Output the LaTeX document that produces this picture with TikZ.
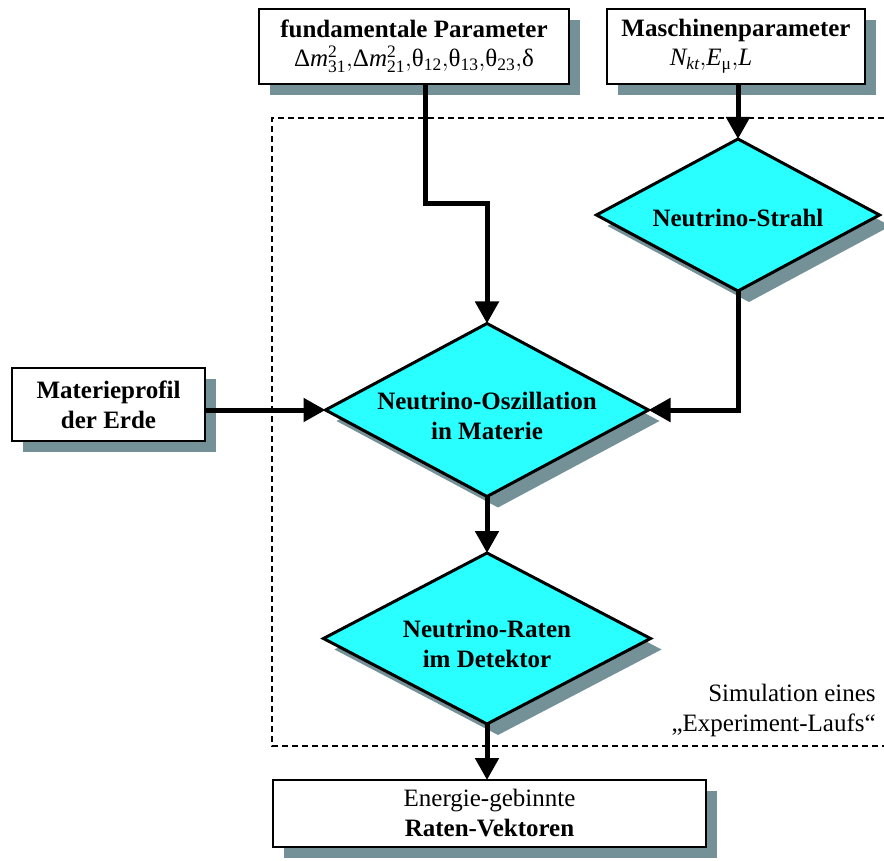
\documentclass[tikz,border=0pt]{standalone}
\usepackage{amsmath}
\usepackage{fontspec}
\setmainfont{Liberation Serif}
\usetikzlibrary{arrows.meta,shapes.geometric,shadows}

\definecolor{rautecyan}{RGB}{41,255,255}
\definecolor{schatten}{RGB}{115,145,150}

\newcommand{\hoti}[2]{^{\text{#1}}_{\text{#2}}}

\begin{document}
\begin{tikzpicture}[
        x=1pt, y=-1pt,
        >={Triangle[length=22pt,width=23pt]},
        every node/.style={font=\fontsize{25}{30}\selectfont, outer sep=0pt},
        kasten/.style={draw, line width=2.5pt, fill=white, align=center, inner sep=0pt,
            drop shadow={shadow xshift=11pt, shadow yshift=-11pt, fill=schatten, opacity=1}},
        raute/.style={diamond, draw, line width=3pt, fill=rautecyan, inner sep=0pt,
            drop shadow={shadow xshift=11pt, shadow yshift=-11pt, fill=schatten, opacity=1}},
        rautetext/.style={align=center, font=\fontsize{25}{30}\selectfont\bfseries},
        pfeil/.style={->, line width=5pt}
    ]

        \useasboundingbox (0,0) rectangle (884,861);

        % Simulationsbereich
        \draw[line width=1.5pt, dash pattern=on 6pt off 4pt]
            (884,118) -- (272,118) -- (272,746) -- (884,746);
        \node[anchor=east, align=right] (simtext) at (879,710)
            {Simulation eines\\„Experiment-Laufs“};

        % Eingaben
        \node[kasten, minimum width=310pt, minimum height=75pt] (fund) at (414,46.5)
            {\textbf{fundamentale Parameter}\\[-1pt]
             $\text{Δ}\mathit{m}\hoti{2}{31}{,}\text{Δ}\mathit{m}\hoti{2}{21}{,}\text{θ}_{\text{12}}{,}\text{θ}_{\text{13}}{,}\text{θ}_{\text{23}}{,}\text{δ}$};
        \node[kasten, minimum width=258pt, minimum height=75pt] (masch) at (736,46.5)
            {\textbf{Maschinenparameter}\\[-1pt]
             $\mathit{N}_{\mathit{kt}}{,}\mathit{E}_{\text{μ}}{,}\mathit{L}$\hspace*{50pt}};
        \node[kasten, minimum width=193pt, minimum height=73pt] (materie) at (108.5,404.5)
            {\textbf{Materieprofil}\\\textbf{der Erde}};

        % Simulationsschritte
        \node[raute, minimum width=283pt, minimum height=152pt] (strahl) at (738,215) {};
        \node[rautetext] (strahltext) at (738,218) {Neutrino-Strahl};
        \node[raute, minimum width=323pt, minimum height=173pt] (osz) at (487,410) {};
        \node[rautetext] (osztext) at (487,416) {Neutrino-Oszillation\\in Materie};
        \node[raute, minimum width=327pt, minimum height=171pt] (raten) at (487,638.5) {};
        \node[rautetext] (ratentext) at (487,644) {Neutrino-Raten\\im Detektor};

        % Ergebnis
        \node[kasten, minimum width=433pt, minimum height=67pt] (vektor) at (489.5,813.5)
            {Energie-gebinnte\\\textbf{Raten-Vektoren}};

        % Pfeile
        \coordinate (knick) at (425,204);
        \draw[pfeil] (knick |- fund.south) -- (knick) -| (osz.north);
        \draw[pfeil] (strahl.north |- masch.south) -- (strahl.north);
        \draw[pfeil] (strahl.south) |- (osz.east);
        \draw[pfeil] (materie.east |- osz.west) -- (osz.west);
        \draw[pfeil] (osz.south) -- (raten.north);
        \draw[pfeil] (raten.south) -- (raten.south |- vektor.north);

    \end{tikzpicture}
\end{document}
